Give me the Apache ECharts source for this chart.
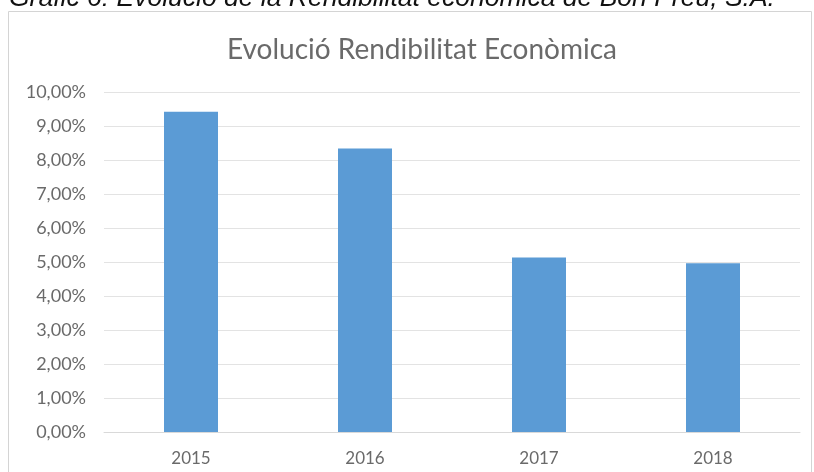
<!DOCTYPE html>
<html>
<head>
<meta charset="utf-8">
<script src="https://cdn.jsdelivr.net/npm/echarts@6/dist/echarts.min.js"></script>
<style>
  html, body { margin: 0; padding: 0; background: #ffffff; }
  #chart { width: 814px; height: 472px; }
</style>
</head>
<body>
<div id="chart"></div>
<script>
// Return on assets by year (percent)
const years = ['2015', '2016', '2017', '2018'];
const rendibilitat = [9.42, 8.34, 5.13, 4.96];
const yMin = 0;
const yMax = 10;
const yStep = 1;

const chartTitle = 'Evolució Rendibilitat Econòmica';
const caption = 'Gràfic 6: Evolució de la Rendibilitat econòmica de Bon Preu, S.A.';

const chart = echarts.init(document.getElementById('chart'), null, { renderer: 'canvas' });

const fmtPct = v => v.toFixed(2).replace('.', ',') + '%';

chart.setOption({
  backgroundColor: '#ffffff',
  animation: false,
  title: {
    text: chartTitle,
    left: 417,
    textAlign: 'center',
    top: 31,
    textStyle: {
      fontFamily: 'Lato',
      fontWeight: 'normal',
      fontSize: 28,
      color: '#6a6a6a'
    }
  },
  graphic: [
    {
      type: 'rect',
      shape: { x: 8.5, y: 11.5, width: 803, height: 480 },
      style: { fill: 'none', stroke: '#d4d4d4', lineWidth: 1 },
      silent: true
    },
    {
      type: 'text',
      left: 9,
      top: -15,
      style: {
        text: caption,
        fontFamily: 'Liberation Sans',
        fontStyle: 'italic',
        fontSize: 26.5,
        fill: '#111111'
      },
      silent: true
    }
  ],
  grid: {
    left: 104,
    right: 14,
    top: 92,
    bottom: 40,
    containLabel: false
  },
  xAxis: {
    type: 'category',
    data: years,
    axisLine: { show: true, lineStyle: { color: '#d9d9d9', width: 1 } },
    axisTick: { show: false },
    axisLabel: {
      margin: 18,
      fontFamily: 'Lato',
      fontSize: 17,
      color: '#6a6a6a'
    }
  },
  yAxis: {
    type: 'value',
    min: yMin,
    max: yMax,
    interval: yStep,
    axisLine: { show: false },
    axisTick: { show: false },
    splitLine: { show: true, lineStyle: { color: '#e3e3e3', width: 1 } },
    axisLabel: {
      margin: 18,
      fontFamily: 'Lato',
      fontSize: 18,
      color: '#6a6a6a',
      formatter: v => fmtPct(v)
    }
  },
  series: [
    {
      type: 'bar',
      data: rendibilitat,
      barWidth: 54,
      itemStyle: { color: '#5b9bd5' }
    }
  ]
});
</script>
</body>
</html>
